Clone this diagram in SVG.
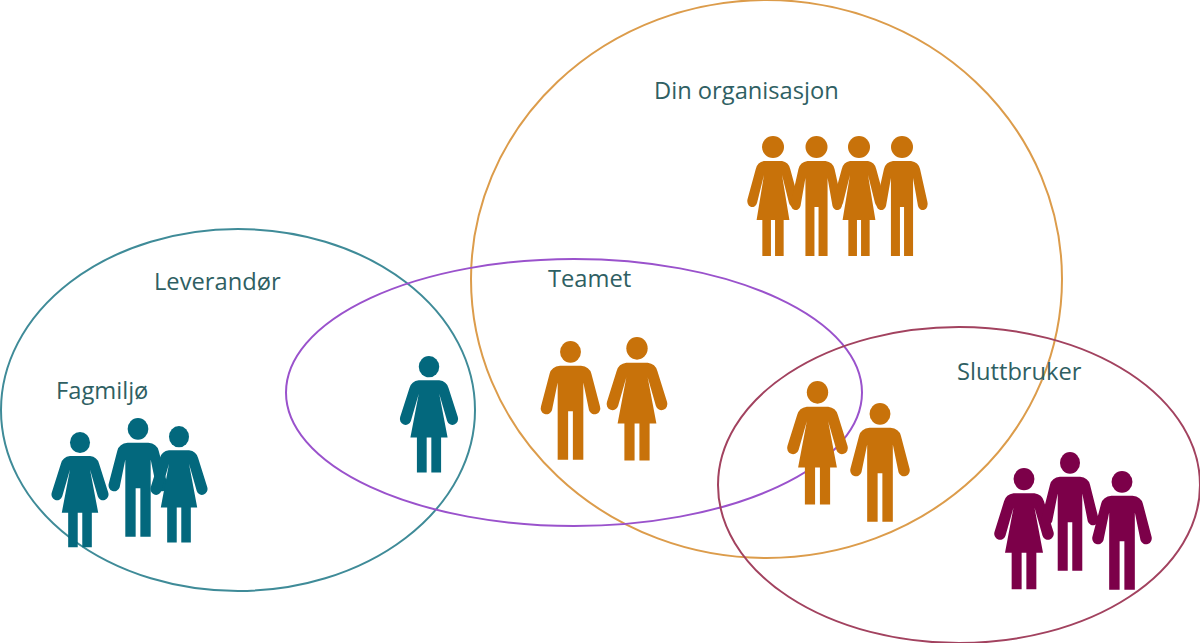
<svg xmlns="http://www.w3.org/2000/svg" width="1200" height="643" viewBox="0 0 1200 643">
<style>
.ring{fill:none;stroke-width:2}
.lbl{font-family:"Open Sans","Noto Sans",sans-serif;font-size:23.700px;fill:#2f5f63}
.teal{fill:#03687d}.amber{fill:#c8720a}.plum{fill:#7c0049}
</style>
<defs>
<circle id="head" cx="0" cy="11" r="11"/>
<path id="wbody" d="M-11 25H11Q19 26 21 33L31 63A6 6 0 0 1 19.500 67L11 39L20 84H13V120H2.500V84H-2.500V120H-13V84H-20L-11 39L-19.500 67A6 6 0 0 1 -31 63L-21 33Q-19 26 -11 25Z"/>
<path id="mbody" d="M-11 25H11Q20 26 22 33L31 66A6 6 0 0 1 19.500 70L13.500 42V120H2.500V71H-2.500V120H-13.500V42L-19.500 70A6 6 0 0 1 -31 66L-22 33Q-20 26 -11 25Z"/>
<g id="woman"><use href="#head"/><use href="#wbody"/></g>
<g id="man"><use href="#head"/><use href="#mbody"/></g>
</defs>
<g id="connectors"></g>
<g id="leverandor">
<ellipse class="ring" cx="238" cy="410" rx="237" ry="181" stroke="#3f8b98"/>
<text class="lbl" x="154" y="290">Leverandør</text>
</g>
<g id="din-organisasjon">
<ellipse class="ring" cx="766.500" cy="279" rx="295.500" ry="279" stroke="#dc9c4b"/>
<text class="lbl" x="654" y="99">Din organisasjon</text>
</g>
<g id="teamet">
<ellipse class="ring" cx="574" cy="392.500" rx="288" ry="133.500" stroke="#9a52cc"/>
<text class="lbl" x="548" y="287">Teamet</text>
</g>
<g id="sluttbruker">
<ellipse class="ring" cx="959" cy="485" rx="241" ry="158" stroke="#a2425f"/>
<text class="lbl" x="957" y="380">Sluttbruker</text>
</g>
<g id="fagmiljo">
<text class="lbl" x="56" y="399">Fagmiljø</text>
<g class="teal">
<use href="#woman" transform="translate(80 432) scale(.91 .96)"/>
<use href="#man" transform="translate(138 418) scale(.94 .99)"/>
<use href="#woman" transform="translate(179 426) scale(.91 .97)"/>
</g>
</g>
<g id="leverandor-i-teamet" class="teal">
<use href="#woman" transform="translate(429 356) scale(.93 .97)"/>
</g>
<g id="org-gruppe" class="amber">
<use href="#head" transform="translate(773 136)"/><use href="#wbody" transform="translate(773 136) scale(.82 1)"/>
<use href="#head" transform="translate(816.500 136)"/><use href="#mbody" transform="translate(816.500 136) scale(.82 1)"/>
<use href="#head" transform="translate(859 136)"/><use href="#wbody" transform="translate(859 136) scale(.82 1)"/>
<use href="#head" transform="translate(902 136)"/><use href="#mbody" transform="translate(902 136) scale(.82 1)"/>
</g>
<g id="team-gruppe" class="amber">
<use href="#man" transform="translate(570.500 341) scale(.95 .99)"/>
<use href="#woman" transform="translate(637 337) scale(.97 1.030)"/>
</g>
<g id="sluttbruker-i-teamet" class="amber">
<use href="#woman" transform="translate(817.500 381) scale(.97 1.030)"/>
<use href="#man" transform="translate(880 403) scale(.95 .99)"/>
</g>
<g id="sluttbruker-gruppe" class="plum">
<use href="#woman" transform="translate(1024 468) scale(.95 1.010)"/>
<use href="#man" transform="translate(1070 452) scale(.91 .99)"/>
<use href="#man" transform="translate(1122 471) scale(.95 .99)"/>
</g>
</svg>
